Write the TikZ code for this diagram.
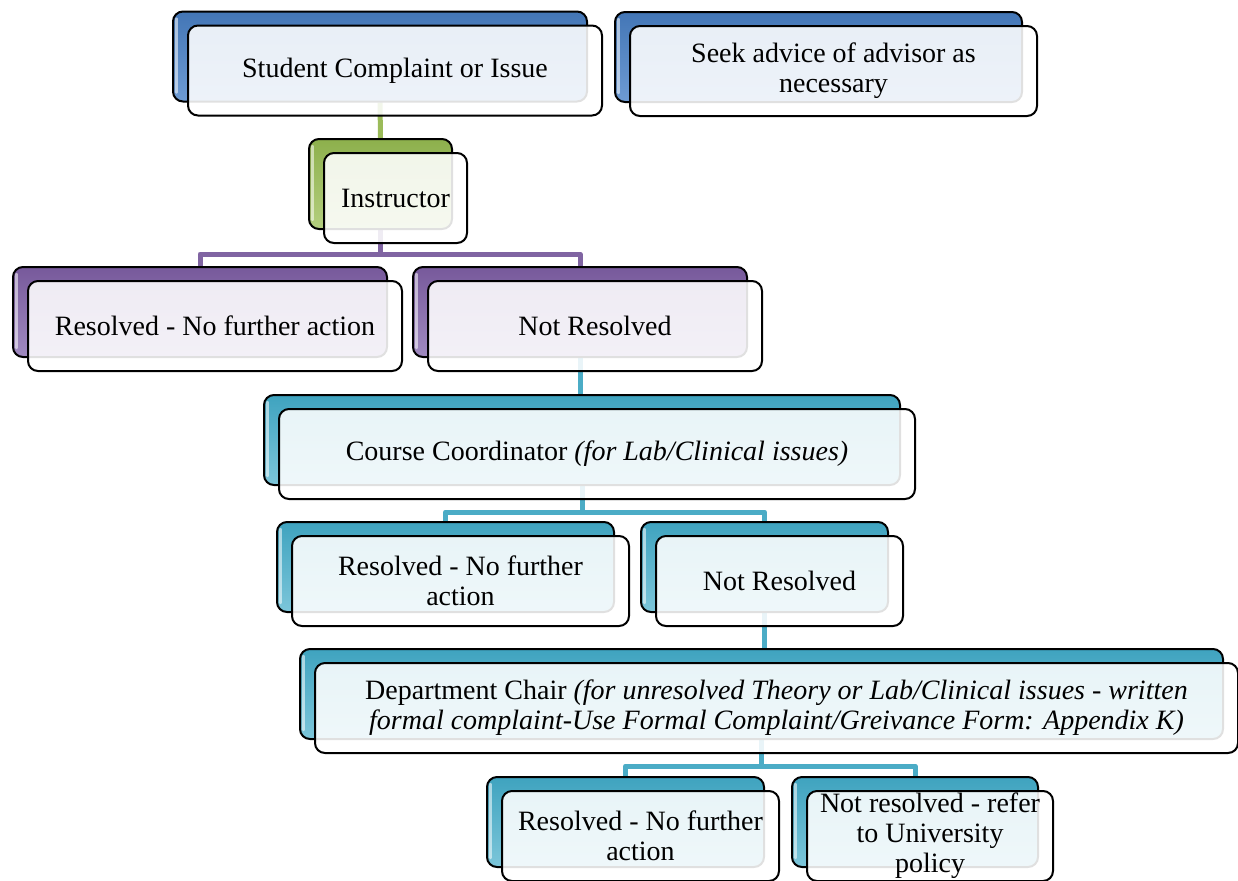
\documentclass[tikz,border=0pt]{standalone}
\usepackage{fontspec}
\setmainfont{Liberation Serif}
\usetikzlibrary{backgrounds,calc}
\definecolor{cBlueT}{HTML}{4376B6}
\definecolor{cBlueB}{HTML}{6E9BD3}
\definecolor{cGreenT}{HTML}{8DB04C}
\definecolor{cGreenB}{HTML}{B4CF7F}
\definecolor{cPurpT}{HTML}{77599B}
\definecolor{cPurpB}{HTML}{A08AC0}
\definecolor{cTealT}{HTML}{3FA3BF}
\definecolor{cTealB}{HTML}{7CC6DA}
\definecolor{lGreen}{HTML}{9BBB59}
\definecolor{lPurp}{HTML}{8064A2}
\definecolor{lTeal}{HTML}{4BACC6}
\tikzset{
  bk/.style={draw=black, line width=1pt, rounded corners=5pt, minimum height=45pt, inner sep=0pt},
  fr/.style={draw=black, line width=1pt, rounded corners=5pt, fill=white, fill opacity=0.88,
    text opacity=1, minimum height=45pt, inner sep=0pt, align=center,
    font=\fontsize{14}{15}\selectfont},
  blueb/.style={bk, top color=cBlueT, bottom color=cBlueB},
  greenb/.style={bk, top color=cGreenT, bottom color=cGreenB},
  purpb/.style={bk, top color=cPurpT, bottom color=cPurpB},
  tealb/.style={bk, top color=cTealT, bottom color=cTealB},
  conn/.style={line width=2.5pt, line join=round},
  gconn/.style={conn, draw=lGreen},
  pconn/.style={conn, draw=lPurp},
  tconn/.style={conn, draw=lTeal},
  hl/.style={draw=white, draw opacity=0.55, line width=1.2pt, line cap=round},
  fshift/.style={shift={(15,14)}}
}
\begin{document}
\begin{tikzpicture}[x=0.5pt,y=-0.5pt]
\useasboundingbox (0,0) rectangle (1238,880);
% Student complaint
\node[blueb, minimum width=207pt] (sb) at (380,56.5) {};
\node[fr, minimum width=207pt] (s) at ([fshift]sb.center) {Student Complaint or Issue};
% Seek advice
\node[blueb, minimum width=203.5pt] (ab) at (818.5,57) {};
\node[fr, minimum width=203.5pt] (a) at ([fshift]ab.center) {Seek advice of advisor as\\necessary};
% Instructor
\node[greenb, minimum width=71.5pt] (ib) at (380.5,184) {};
\node[fr, minimum width=71.5pt] (i) at ([fshift]ib.center) {Instructor};
% Level 1
\node[purpb, minimum width=187pt] (r1b) at (200,312) {};
\node[fr, minimum width=187pt] (r1) at ([fshift]r1b.center) {Resolved - No further action};
\node[purpb, minimum width=167pt] (n1b) at (580,312) {};
\node[fr, minimum width=167pt] (n1) at ([fshift]n1b.center) {Not Resolved};
% Course coordinator
\node[tealb, minimum width=318pt] (cb) at (582,440) {};
\node[fr, minimum width=318pt] (c) at ([fshift]cb.center) {Course Coordinator \textit{(for Lab/Clinical issues)}};
% Level 2
\node[tealb, minimum width=168.5pt] (r2b) at (445.5,567) {};
\node[fr, minimum width=168.5pt] (r2) at ([fshift]r2b.center) {Resolved - No further\\action};
\node[tealb, minimum width=123.5pt] (n2b) at (764.5,567) {};
\node[fr, minimum width=123.5pt] (n2) at ([fshift]n2b.center) {Not Resolved};
% Department chair
\node[tealb, minimum width=461.5pt] (db) at (761.5,694) {};
\node[fr, minimum width=461.5pt] (d) at ([fshift]db.center) {Department Chair \textit{(for unresolved Theory or Lab/Clinical issues - written}\\\textit{formal complaint-Use Formal Complaint/Greivance Form: Appendix K)}};
% Level 3
\node[tealb, minimum width=138.5pt] (r3b) at (625.5,822) {};
\node[fr, minimum width=138.5pt] (r3) at ([fshift]r3b.center) {Resolved - No further\\action};
\node[tealb, minimum width=123pt] (n3b) at (915,822) {};
\node[fr, minimum width=123pt] (n3) at ([fshift]n3b.center) {Not resolved - refer\\to University\\policy};
% glossy left-edge highlights of the back boxes
\foreach \n in {sb,ab,ib,r1b,n1b,cb,r2b,n2b,db,r3b,n3b}
  \draw[hl] ([xshift=2.2pt,yshift=-4pt]\n.north west) -- ([xshift=2.2pt,yshift=5pt]\n.south west);
% connectors
\begin{pgfonlayer}{background}
\draw[gconn] (sb.south) -- (ib.north);
\draw[pconn] (ib.south) |- ([yshift=6pt]r1b.north) -- (r1b.north);
\draw[pconn] (ib.south) |- ([yshift=6pt]n1b.north) -- (n1b.north);
\draw[tconn] (n1b.south) -- (n1b.south |- cb.north);
\draw[tconn] (cb.south) |- ([yshift=4.5pt]r2b.north) -- (r2b.north);
\draw[tconn] (cb.south) |- ([yshift=4.5pt]n2b.north) -- (n2b.north);
\draw[tconn] (n2b.south) -- (n2b.south |- db.north);
\draw[tconn] (db.south) |- ([yshift=5pt]r3b.north) -- (r3b.north);
\draw[tconn] (db.south) |- ([yshift=5pt]n3b.north) -- (n3b.north);
\end{pgfonlayer}
\end{tikzpicture}
\end{document}
